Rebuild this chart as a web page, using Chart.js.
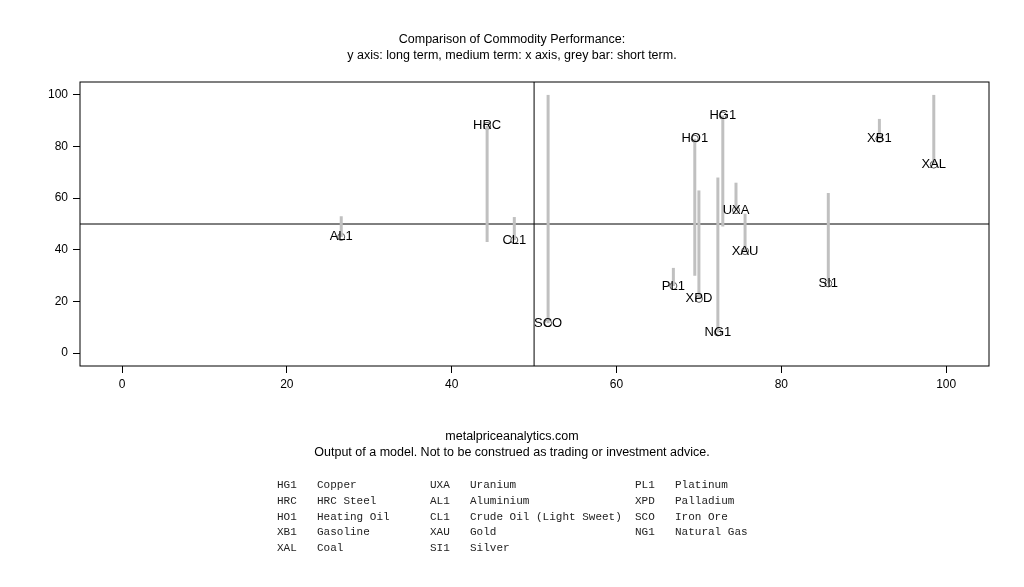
<!DOCTYPE html>
<html>
<head>
<meta charset="utf-8">
<script src="https://cdn.jsdelivr.net/npm/chart.js@4"></script>
<style>
  body{margin:0;background:#fff;font-family:"Liberation Sans",Arial,sans-serif;}
  #wrap{position:relative;width:1024px;height:587px;}
  canvas{position:absolute;left:0;top:0;}
  .c{position:absolute;left:0;width:1024px;text-align:center;font-size:12.5px;color:#000;}
  #legend{position:absolute;left:277px;top:478px;font-family:"Liberation Mono","DejaVu Sans Mono",monospace;font-size:11px;line-height:15.8px;color:#222;}
  #legend td{padding:0;vertical-align:top;white-space:pre;}
</style>
</head>
<body>
<div id="wrap">
  <canvas id="grafico" width="1024" height="587"></canvas>
  <div class="c" style="top:32px">Comparison of Commodity Performance:</div>
  <div class="c" style="top:48px">y axis: long term, medium term: x axis, grey bar: short term.</div>
  <div class="c" style="top:429px">metalpriceanalytics.com</div>
  <div class="c" style="top:445px">Output of a model. Not to be construed as trading or investment advice.</div>
  <div id="legend"></div>
</div>
<script>
// simbolos, posicao (medio prazo x, longo prazo y) e fim da barra cinza (curto prazo)
var codigos = ["HG1","HRC","HO1","XB1","XAL","UXA","AL1","CL1","XAU","SI1","PL1","XPD","SCO","NG1"];
var nomes = ["Copper","HRC Steel","Heating Oil","Gasoline","Coal","Uranium","Aluminium","Crude Oil (Light Sweet)","Gold","Silver","Platinum","Palladium","Iron Ore","Natural Gas"];
var medio = [72.9, 44.3, 69.5, 91.9, 98.5, 74.5, 26.6, 47.6, 75.6, 85.7, 66.9, 70.0, 51.7, 72.3];
var longo = [92, 88, 83, 83, 73, 55.4, 45, 43.8, 39.5, 27, 26, 21, 11.6, 8];
var curto = [49, 43, 30, 90.7, 100, 66, 53, 52.7, 54, 62, 33, 63, 100, 68];
var ticksX = [0,20,40,60,80,100];
var ticksY = [0,20,40,60,80,100];

// tabela da legenda em baixo (3 colunas)
var colunas = [[0,1,2,3,4],[5,6,7,8,9],[10,11,12,13]];
var larguras = [113, 165, 150];
var html = '<table cellspacing="0"><tr>';
colunas.forEach(function(col, k){
  html += '<td style="width:40px">' + col.map(function(i){return codigos[i];}).join('<br>') + '</td>';
  html += '<td style="width:' + larguras[k] + 'px">' + col.map(function(i){return nomes[i];}).join('<br>') + '</td>';
});
html += '</tr></table>';
document.getElementById('legend').innerHTML = html;

var datasets = [];
codigos.forEach(function(c, i){
  datasets.push({
    label: c,
    data: [{x: medio[i], y: longo[i]}, {x: medio[i], y: curto[i]}],
    showLine: true,
    borderColor: '#c0c0c0',
    borderWidth: 3,
    pointRadius: 0
  });
});
datasets.push({
  label: 'pontos',
  data: codigos.map(function(c, i){ return {x: medio[i], y: longo[i]}; }),
  showLine: false,
  pointRadius: 3.5,
  pointBorderColor: '#555',
  pointBackgroundColor: 'transparent',
  pointBorderWidth: 1
});

var moldura = {
  id: 'moldura',
  beforeDatasetsDraw: function(chart){
    var ctx = chart.ctx, a = chart.chartArea;
    var px = chart.scales.x.getPixelForValue(50), py = chart.scales.y.getPixelForValue(50);
    ctx.save();
    ctx.strokeStyle = '#000'; ctx.lineWidth = 1;
    ctx.beginPath();
    ctx.moveTo(px, a.top); ctx.lineTo(px, a.bottom);
    ctx.moveTo(a.left, py); ctx.lineTo(a.right, py);
    ctx.stroke();
    ctx.restore();
  },
  afterDatasetsDraw: function(chart){
    var ctx = chart.ctx, a = chart.chartArea;
    ctx.save();
    ctx.strokeStyle = '#000'; ctx.lineWidth = 1;
    ctx.strokeRect(a.left, a.top, a.right - a.left, a.bottom - a.top);
    ctx.fillStyle = '#000';
    ctx.font = '13px "Liberation Sans", Arial, sans-serif';
    ctx.textAlign = 'center'; ctx.textBaseline = 'middle';
    codigos.forEach(function(c, i){
      ctx.fillText(c, chart.scales.x.getPixelForValue(medio[i]), chart.scales.y.getPixelForValue(longo[i]));
    });
    ctx.restore();
  }
};

var chartGraph = new Chart(document.getElementById('grafico'), {
  type: 'scatter',
  data: { datasets: datasets },
  plugins: [moldura],
  options: {
    responsive: false,
    animation: false,
    layout: { padding: { left: 0, right: 35, top: 82, bottom: 191 } },
    plugins: { legend: { display: false }, tooltip: { enabled: false } },
    scales: {
      x: {
        min: -5.1, max: 105.2,
        afterBuildTicks: function(s){ s.ticks = ticksX.map(function(v){ return {value: v}; }); },
        afterFit: function(s){ s.height = 30; },
        grid: { drawOnChartArea: false, color: '#000', tickLength: 7 },
        border: { display: false },
        ticks: { color: '#000', font: { size: 12, family: '"Liberation Sans", Arial' }, padding: 4 }
      },
      y: {
        min: -5, max: 105,
        afterBuildTicks: function(s){ s.ticks = ticksY.map(function(v){ return {value: v}; }); },
        afterFit: function(s){ s.width = 80; },
        grid: { drawOnChartArea: false, color: '#000', tickLength: 7 },
        border: { display: false },
        ticks: { color: '#000', font: { size: 12, family: '"Liberation Sans", Arial' }, padding: 5 }
      }
    }
  }
});
</script>
</body>
</html>
